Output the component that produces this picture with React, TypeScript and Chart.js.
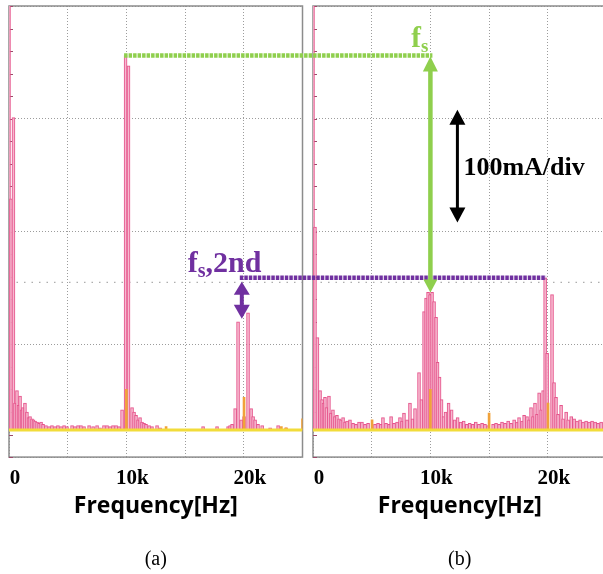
import React, { useEffect, useRef, useState } from "react";
import { Chart, registerables } from "chart.js";

Chart.register(...registerables);

// ---------- data ----------
const xGridFreqs = [0, 5000, 10000, 15000, 20000, 25000]; // Hz, 5 kHz/div
const tickValues = [0, 10000, 20000];
const tickLabels = ["0", "10k", "20k"];
const yGridLevels = [-24, 76, 176, 276, 376]; // mA, 100 mA/div
const yMin = -24;
const yMax = 376;
const minorStep = 20;
const refLevel = 131;
const axisTitle = "Frequency[Hz]";
const panelLabels = ["(a)", "(b)"];

// pink trace (a): [frequency Hz, amplitude mA]
const pinkA: [number, number][] = [
  [0, 400], [170, 205], [380, 277], [510, 24], [680, 35], [810, 22], [940, 30],
  [1070, 18], [1190, 20], [1360, 24], [1530, 16], [1660, 11], [1790, 12],
  [1960, 10], [2090, 9], [2220, 8], [2390, 7], [2560, 6], [2730, 7], [2900, 5],
  [3150, 4], [3410, 3], [3660, 4], [3920, 3], [4170, 4], [4430, 3], [4690, 4],
  [4940, 3], [5370, 4], [5620, 3], [5880, 4], [6130, 4], [6390, 3], [6820, 4],
  [7160, 3], [7500, 4], [7750, 2], [8090, 4], [8350, 4], [8610, 3], [8860, 4],
  [9120, 4], [9370, 3], [9630, 18], [9930, 332], [10180, 323], [10480, 20],
  [10650, 16], [10820, 13], [10990, 9], [11160, 11], [11330, 7], [11500, 6],
  [11670, 5], [11930, 4], [12180, 3], [12610, 4], [12870, 2], [16530, 3],
  [17720, 3], [18660, 3], [18830, 4], [19000, 5], [19260, 19], [19510, 96],
  [19770, 9], [20020, 12], [20360, 104], [20620, 19], [20790, 12], [20960, 9],
  [21210, 5], [21560, 4], [22240, 2], [22920, 4], [23600, 2],
];
// yellow trace (a)
const yellowA: [number, number][] = [
  [10000, 36], [13380, 3], [20020, 29], [23200, 3], [23600, 2], [25000, 10],
];
// pink trace (b)
const pinkB: [number, number][] = [
  [0, 400], [170, 180], [380, 82], [600, 35], [770, 27], [890, 24], [1020, 29],
  [1150, 20], [1360, 30], [1530, 15], [1700, 18], [1870, 12], [2040, 13],
  [2220, 10], [2390, 9], [2560, 11], [2730, 7], [2900, 8], [3150, 9], [3410, 6],
  [3660, 5], [3920, 7], [4170, 7], [4430, 5], [4690, 6], [5280, 5], [5540, 6],
  [5790, 5], [5960, 11], [6220, 6], [6480, 5], [6650, 12], [6900, 6], [7160, 7],
  [7410, 11], [7580, 8], [7750, 15], [8010, 9], [8260, 24], [8480, 10],
  [8690, 19], [9030, 51], [9240, 27], [9460, 105], [9630, 117], [9800, 122],
  [9970, 120], [10140, 122], [10310, 114], [10480, 100], [10610, 60],
  [10780, 47], [10950, 27], [11120, 12], [11290, 16], [11550, 24], [11810, 18],
  [12070, 9], [12320, 11], [12580, 7], [12840, 8], [13100, 5], [13350, 6],
  [13610, 5], [13870, 7], [14130, 5], [14400, 6], [14650, 5], [14910, 4],
  [15340, 5], [15590, 6], [15850, 5], [16100, 7], [16360, 6], [16620, 8],
  [16870, 6], [17130, 9], [17380, 7], [17550, 11], [17810, 8], [17980, 13],
  [18230, 12], [18400, 9], [18570, 20], [18740, 12], [18910, 24], [19080, 14],
  [19260, 33], [19430, 18], [19600, 35], [19770, 135], [19940, 68],
  [20360, 120], [20530, 42], [20700, 29], [20870, 14], [21130, 22], [21300, 10],
  [21560, 16], [21730, 9], [21990, 12], [22240, 10], [22490, 8], [22750, 9],
  [23000, 7], [23260, 8], [23520, 7], [23770, 8], [24030, 7], [24280, 6],
  [24540, 7],
];
// yellow trace (b)
const yellowB: [number, number][] = [
  [5030, 9], [10000, 36], [15000, 15], [20020, 24],
];
const baseline: [number, number][] = [[0, 0], [25000, 0]];

// annotation anchors
const fsFreq = 10000;
const h2Freq = 20000;
const divTop = 284;
const divSize = 100;
const divArrowFreq = 12300;

// ---------- styling ----------
const GREEN = "#8fcf4d";
const PURPLE = "#7030a0";
const SERIF = "'Liberation Serif', 'Times New Roman', serif";
const SANS = "'Open Sans', 'Noto Sans', sans-serif";
const CW = 306;
const CH = 525;
const B_LEFT = 304;

const framePlugin = {
  id: "scopeFrame",
  beforeDatasetsDraw(chart: any) {
    const { ctx, chartArea: ca, scales } = chart;
    ctx.save();
    const yr = scales.y.getPixelForValue(refLevel);
    ctx.strokeStyle = "rgba(140,140,140,0.7)";
    ctx.lineWidth = 1.2;
    ctx.setLineDash([1.5, 6]);
    ctx.beginPath();
    ctx.moveTo(ca.left, yr);
    ctx.lineTo(ca.right, yr);
    ctx.stroke();
    ctx.setLineDash([]);
    ctx.strokeStyle = "#8c8c8c";
    ctx.lineWidth = 1.5;
    ctx.strokeRect(ca.left, ca.top, ca.right - ca.left, ca.bottom - ca.top);
    ctx.strokeStyle = "#9a4a6a";
    ctx.lineWidth = 1;
    for (let v = yMin; v <= yMax; v += minorStep) {
      const y = Math.round(scales.y.getPixelForValue(v)) + 0.5;
      ctx.beginPath();
      ctx.moveTo(ca.left, y);
      ctx.lineTo(ca.left + 4, y);
      ctx.stroke();
    }
    ctx.restore();
  },
};

const toXY = (arr: [number, number][]) => arr.map(([x, y]) => ({ x, y }));

function makeConfig(pink: [number, number][], yellow: [number, number][]): any {
  return {
    type: "bar",
    data: {
      datasets: [
        {
          type: "line",
          data: toXY(baseline),
          borderColor: "#f2dc3a",
          borderWidth: 3,
          pointRadius: 0,
          order: 1,
        },
        {
          type: "bar",
          data: toXY(yellow),
          backgroundColor: "#f0a23a",
          barThickness: 2,
          grouped: false,
          clip: 0,
          order: 2,
        },
        {
          type: "bar",
          data: toXY(pink),
          backgroundColor: "rgba(248,200,218,0.75)",
          borderColor: "#e6558c",
          borderWidth: 1,
          barThickness: 3,
          grouped: false,
          clip: 0,
          order: 3,
        },
      ],
    },
    options: {
      animation: false,
      responsive: false,
      devicePixelRatio: 1,
      events: [],
      layout: { padding: { left: 9, right: 3.5, top: 6, bottom: 12 } },
      plugins: { legend: { display: false }, tooltip: { enabled: false } },
      scales: {
        x: {
          type: "linear",
          min: 0,
          max: 25000,
          offset: false,
          afterBuildTicks: (s: any) => {
            s.ticks = xGridFreqs.map((v) => ({ value: v }));
          },
          grid: { color: "#9c9c9c", lineWidth: 1, drawTicks: false, offset: false },
          border: { display: false, dash: [1, 2] },
          ticks: {
            autoSkip: false,
            maxRotation: 0,
            padding: 0,
            labelOffset: 6,
            color: "#000",
            font: { family: SERIF, size: 21, weight: "bold", lineHeight: 2.06 },
            callback: (v: number) => {
              const i = tickValues.indexOf(v);
              return i >= 0 ? tickLabels[i] : "";
            },
          },
          title: {
            display: true,
            text: axisTitle,
            color: "#000",
            font: { family: SANS, size: 23, weight: "bold", lineHeight: 0.55 },
            padding: { top: 0, bottom: 0 },
          },
        },
        y: {
          min: yMin,
          max: yMax,
          afterBuildTicks: (s: any) => {
            s.ticks = yGridLevels.map((v) => ({ value: v }));
          },
          ticks: { display: false },
          grid: { color: "#9c9c9c", lineWidth: 1, drawTicks: false },
          border: { display: false, dash: [1, 2] },
        },
      },
    },
    plugins: [framePlugin],
  };
}

const peakIn = (arr: [number, number][], lo: number, hi: number) =>
  arr
    .filter(([f]) => f >= lo && f <= hi)
    .reduce((m, p) => (p[1] > m[1] ? p : m), [0, -Infinity] as [number, number]);

export default function App() {
  const refA = useRef<HTMLCanvasElement>(null);
  const refB = useRef<HTMLCanvasElement>(null);
  const [ov, setOv] = useState<any>(null);

  useEffect(() => {
    document.body.style.margin = "0";
    const ca = new Chart(refA.current as any, makeConfig(pinkA, yellowA));
    const cb = new Chart(refB.current as any, makeConfig(pinkB, yellowB));
    const ax = (f: number) => ca.scales.x.getPixelForValue(f);
    const ay = (v: number) => ca.scales.y.getPixelForValue(v);
    const bx = (f: number) => B_LEFT + cb.scales.x.getPixelForValue(f);
    const by = (v: number) => cb.scales.y.getPixelForValue(v);

    const fsA = peakIn(pinkA, fsFreq - 800, fsFreq + 800);
    const fsB = peakIn(pinkB, fsFreq - 800, fsFreq + 800);
    const h2A = peakIn(pinkA, h2Freq - 800, h2Freq + 800);
    const h2B = peakIn(pinkB, h2Freq - 800, h2Freq + 800);

    setOv({
      gx1: ax(fsA[0]) - 1.5,
      gx2: bx(fsFreq) + 2,
      gy: ay(fsA[1]),
      gax: bx(fsFreq),
      gyb: by(fsB[1]),
      px1: ax(h2Freq) - 4,
      px2: bx(h2B[0]) + 1,
      py: by(h2B[1]),
      pax: ax(h2Freq) - 2,
      payb: ay(h2A[1]) + 6,
      kx: bx(divArrowFreq),
      ky1: by(divTop),
      ky2: by(divTop - divSize),
      acx: (ca.chartArea.left + ca.chartArea.right) / 2,
      bcx: B_LEFT + (cb.chartArea.left + cb.chartArea.right) / 2,
    });

    return () => {
      ca.destroy();
      cb.destroy();
    };
  }, []);

  const tri = (x: number, tip: number, dir: number, w: number, h: number) =>
    `${x},${tip} ${x - w / 2},${tip + dir * h} ${x + w / 2},${tip + dir * h}`;

  return (
    <div
      style={{
        position: "absolute",
        left: 0,
        top: 0,
        width: 603,
        height: 574,
        overflow: "hidden",
        background: "#fff",
      }}
    >
      <canvas
        ref={refA}
        width={CW}
        height={CH}
        style={{ position: "absolute", left: 0, top: 0, width: CW, height: CH }}
      />
      <canvas
        ref={refB}
        width={CW}
        height={CH}
        style={{ position: "absolute", left: B_LEFT, top: 0, width: CW, height: CH }}
      />
      {ov && (
        <svg
          width={603}
          height={574}
          style={{ position: "absolute", left: 0, top: 0, pointerEvents: "none" }}
        >
          {/* purple 2nd harmonic line */}
          <line x1={ov.px1} y1={ov.py} x2={ov.px2} y2={ov.py} stroke={PURPLE} strokeWidth={4.5} strokeDasharray="3.5 1" />
          {/* purple double arrow */}
          <line x1={ov.pax} y1={ov.py + 14} x2={ov.pax} y2={ov.payb - 12} stroke={PURPLE} strokeWidth={4} />
          <polygon points={tri(ov.pax, ov.py + 4, 1, 16, 13)} fill={PURPLE} />
          <polygon points={tri(ov.pax, ov.payb, -1, 16, 14)} fill={PURPLE} />
          {/* green fundamental line */}
          <line x1={ov.gx1} y1={ov.gy} x2={ov.gx2} y2={ov.gy} stroke={GREEN} strokeWidth={4.5} strokeDasharray="3.5 1" />
          <line x1={ov.gax} y1={ov.gy + 12} x2={ov.gax} y2={ov.gyb - 10} stroke={GREEN} strokeWidth={4.5} />
          <polygon points={tri(ov.gax, ov.gy + 1, 1, 15, 15)} fill={GREEN} />
          <polygon points={tri(ov.gax, ov.gyb, -1, 14, 13)} fill={GREEN} />
          {/* black div arrow */}
          <line x1={ov.kx} y1={ov.ky1 + 10} x2={ov.kx} y2={ov.ky2 - 10} stroke="#000" strokeWidth={3} />
          <polygon points={tri(ov.kx, ov.ky1, 1, 16, 15)} fill="#000" />
          <polygon points={tri(ov.kx, ov.ky2, -1, 16, 15)} fill="#000" />
          {/* texts */}
          <text x={ov.gax - 2} y={ov.gy - 9} textAnchor="end" fill={GREEN} fontFamily={SERIF} fontWeight="bold" fontSize={29}>
            f<tspan fontSize={19} dy={5}>s</tspan>
          </text>
          <text x={ov.kx + 6} y={175} fill="#000" fontFamily={SERIF} fontWeight="bold" fontSize={26}>
            100mA/div
          </text>
          <text x={ov.pax - 54} y={ov.py - 6} fill={PURPLE} fontFamily={SERIF} fontWeight="bold" fontSize={30}>
            f<tspan fontSize={20} dy={5}>s</tspan>
            <tspan dy={-5}>,2nd</tspan>
          </text>
          <text x={ov.acx} y={565} textAnchor="middle" fill="#000" fontFamily={SERIF} fontSize={20}>
            {panelLabels[0]}
          </text>
          <text x={ov.bcx} y={565} textAnchor="middle" fill="#000" fontFamily={SERIF} fontSize={20}>
            {panelLabels[1]}
          </text>
        </svg>
      )}
    </div>
  );
}
